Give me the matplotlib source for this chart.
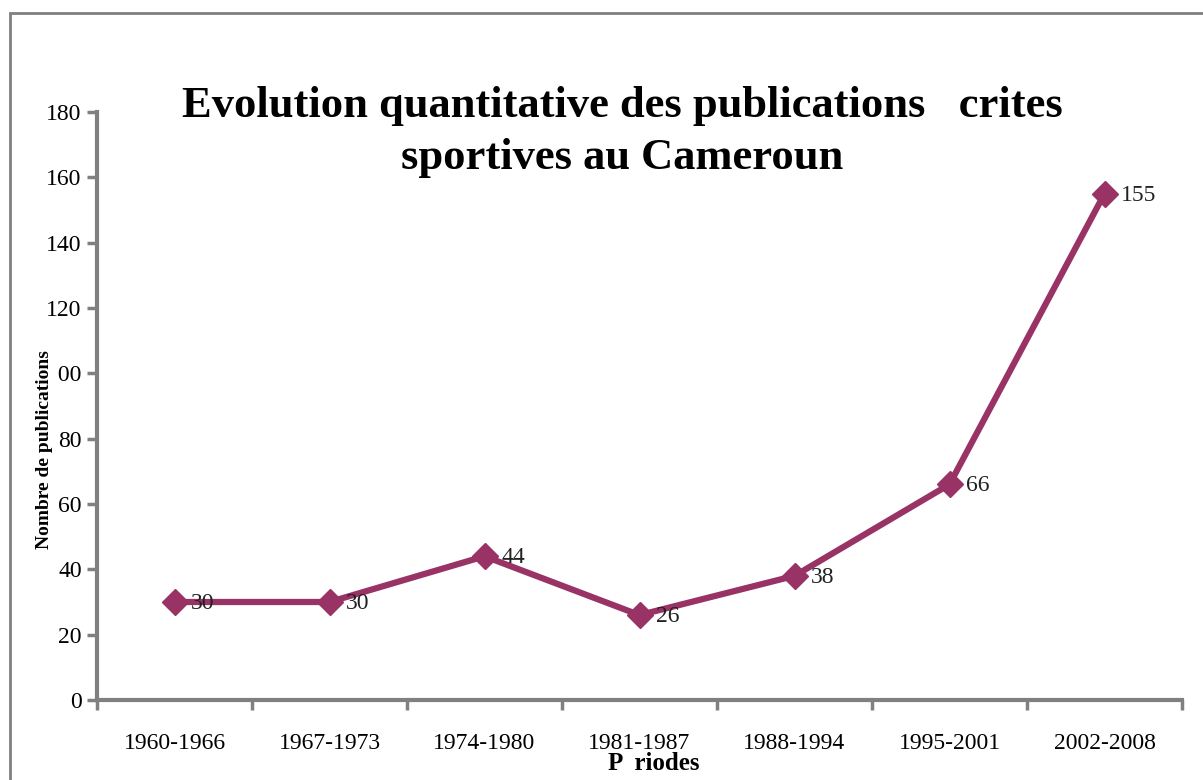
import matplotlib
matplotlib.use("Agg")
import matplotlib.pyplot as plt
from matplotlib.patches import Rectangle

periods = ["1960-1966", "1967-1973", "1974-1980", "1981-1987", "1988-1994", "1995-2001", "2002-2008"]
counts = [30, 30, 44, 26, 38, 66, 155]
yticks = [0, 20, 40, 60, 80, 100, 120, 140, 160, 180]
ytick_labels = ["0", "20", "40", "60", "80", "\u00a000", "120", "140", "160", "180"]

plt.rcParams['font.family'] = ['Liberation Serif', 'DejaVu Serif']

W, H = 1203, 780
fig = plt.figure(figsize=(W / 100, H / 100), dpi=100)
fig.patch.set_facecolor("white")
fig.add_artist(Rectangle((10 / W, -0.05), 1.2, 1 - 13 / H + 0.05, transform=fig.transFigure,
                         fill=False, edgecolor="#808080", linewidth=2))

ax = fig.add_axes([97 / W, 1 - 700 / H, (1182 - 97) / W, (700 - 112) / H])
x = list(range(len(periods)))
color = "#993366"
ax.plot(x, counts, color=color, linewidth=4.5, marker="D", markersize=13, zorder=3)
for xi, v in zip(x, counts):
    ax.annotate(str(v), (xi, v), xytext=(12, -1), textcoords="offset points",
                ha="left", va="center", fontsize=17, color="#222222")

ax.set_xlim(-0.5, len(periods) - 0.5)
ax.set_ylim(0, 180)
ax.set_yticks(yticks)
ax.set_yticklabels(ytick_labels, fontsize=17)
ax.set_xticks(x)
ax.set_xticklabels(periods, fontsize=17)
ax.set_xticks([i - 0.5 for i in range(len(periods) + 1)], minor=True)
ax.tick_params(axis="x", which="major", length=0, pad=24)
ax.tick_params(axis="x", which="minor", length=7, width=2.5, color="#808080")
ax.tick_params(axis="y", length=7, width=2.5, color="#808080", pad=4)
for s in ["top", "right"]:
    ax.spines[s].set_visible(False)
for s in ["left", "bottom"]:
    ax.spines[s].set_color("#808080")
    ax.spines[s].set_linewidth(3)

fig.text(654 / W, 1 - 764 / H, "P  riodes", ha="center", va="center",
         fontsize=18, fontweight="bold")
fig.text(45 / W, 1 - 450 / H, "Nombre de publications", ha="center", va="center",
         rotation=90, fontsize=14, fontweight="bold")

fig.text(622 / W, 1 - 106 / H, "Evolution quantitative des publications   crites",
         ha="center", va="center", fontsize=32, fontweight="bold")
fig.text(622 / W, 1 - 158 / H, "sportives au Cameroun",
         ha="center", va="center", fontsize=32, fontweight="bold")

fig.savefig("out.png", dpi=100)
